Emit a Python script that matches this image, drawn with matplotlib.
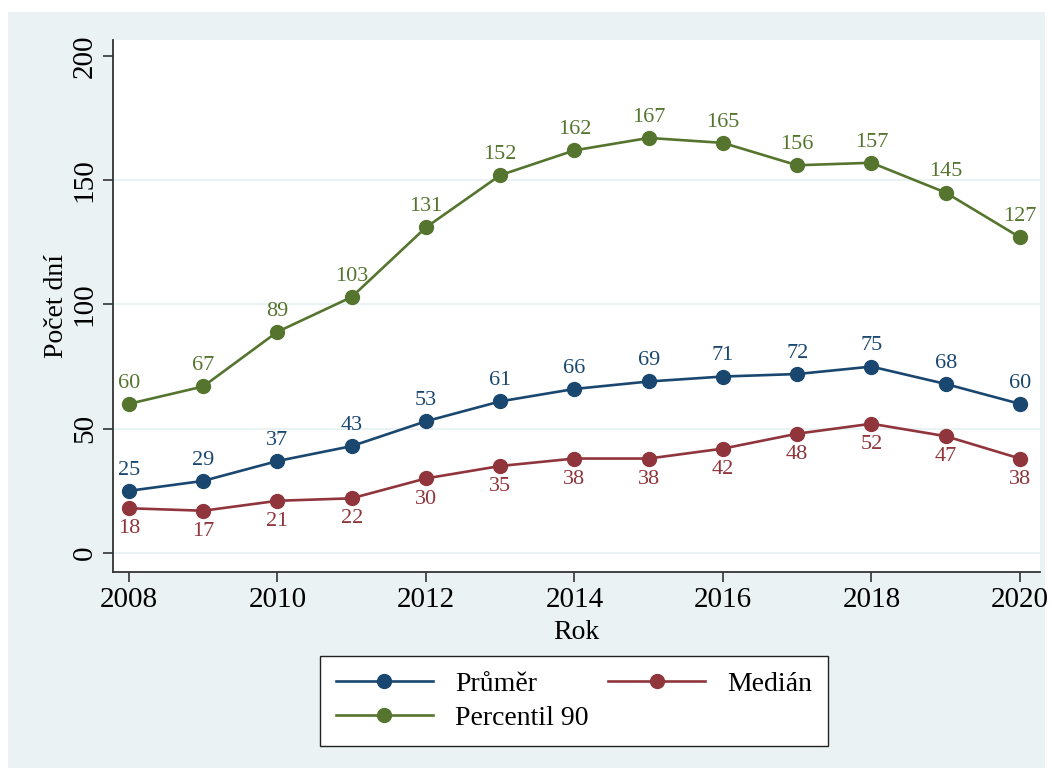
import matplotlib
matplotlib.use("Agg")
import matplotlib.pyplot as plt
from matplotlib.patches import Rectangle

years = [2008, 2009, 2010, 2011, 2012, 2013, 2014, 2015, 2016, 2017, 2018, 2019, 2020]
prumer = [25, 29, 37, 43, 53, 61, 66, 69, 71, 72, 75, 68, 60]
median = [18, 17, 21, 22, 30, 35, 38, 38, 42, 48, 52, 47, 38]
p90 = [60, 67, 89, 103, 131, 152, 162, 167, 165, 156, 157, 145, 127]
yticks = [0, 50, 100, 150, 200]
xticks = [2008, 2010, 2012, 2014, 2016, 2018, 2020]

plt.rcParams['font.family'] = ['Liberation Serif', 'DejaVu Serif']

NAVY = '#1A476F'
MAROON = '#90353B'
GREEN = '#55752F'
BG = '#EAF2F3'

fig = plt.figure(figsize=(10.52, 7.72), dpi=100)
fig.patch.set_facecolor('white')
fig.patches.append(Rectangle((8/1052, 4/772), 1037/1052, 756/772,
                             transform=fig.transFigure, facecolor=BG,
                             edgecolor='none', zorder=-10))

ax = fig.add_axes([113/1052, 1-572/772, (1040-113)/1052, (572-40)/772])
ax.set_facecolor('white')
ax.set_xlim(2007.785, 2020.27)
ax.set_ylim(-7.65, 206.4)

for y in [0, 50, 100, 150]:
    ax.axhline(y, color=BG, lw=1.5, zorder=0)

series = [
    (prumer, NAVY, 'Průměr', 'above'),
    (median, MAROON, 'Medián', 'below'),
    (p90, GREEN, 'Percentil 90', 'above'),
]
handles = {}
for vals, col, lab, pos in series:
    h, = ax.plot(years, vals, color=col, lw=1.9, marker='o', markersize=10,
                 markeredgecolor=col, markerfacecolor=col, label=lab, zorder=3)
    handles[lab] = h
    for x, v in zip(years, vals):
        if pos == 'above':
            ax.annotate(str(v), (x, v), xytext=(0, 8), textcoords='offset points',
                        ha='center', va='bottom', color=col, fontsize=16)
        else:
            ax.annotate(str(v), (x, v), xytext=(0, -8), textcoords='offset points',
                        ha='center', va='top', color=col, fontsize=16)

for s in ['top', 'right']:
    ax.spines[s].set_visible(False)
for s in ['left', 'bottom']:
    ax.spines[s].set_color('#333333')
    ax.spines[s].set_linewidth(1.3)

ax.set_yticks(yticks)
ax.set_yticklabels([str(t) for t in yticks], rotation=90, va='center')
ax.set_xticks(xticks)
ax.tick_params(axis='both', labelsize=21, color='#333333', width=1.2, length=7, pad=4)
ax.set_ylabel('Počet dní', fontsize=20, labelpad=2)
ax.set_xlabel('Rok', fontsize=20, labelpad=0)
ax.xaxis.set_label_coords(0.5, -0.09)

order = ['Průměr', 'Percentil 90', 'Medián']
leg = fig.legend([handles[k] for k in order], order,
                 loc='center', bbox_to_anchor=(574/1052, 1-701/772), ncol=2,
                 fontsize=20, frameon=True, fancybox=False, handlelength=3.5,
                 columnspacing=0.7, handletextpad=0.8, labelspacing=0.3,
                 borderpad=0.55)
leg.get_frame().set_edgecolor('#222222')
leg.get_frame().set_linewidth(1.0)
leg.get_frame().set_facecolor('white')
leg.get_frame().set_alpha(1)

fig.savefig('out.png', dpi=100, facecolor=fig.get_facecolor())
